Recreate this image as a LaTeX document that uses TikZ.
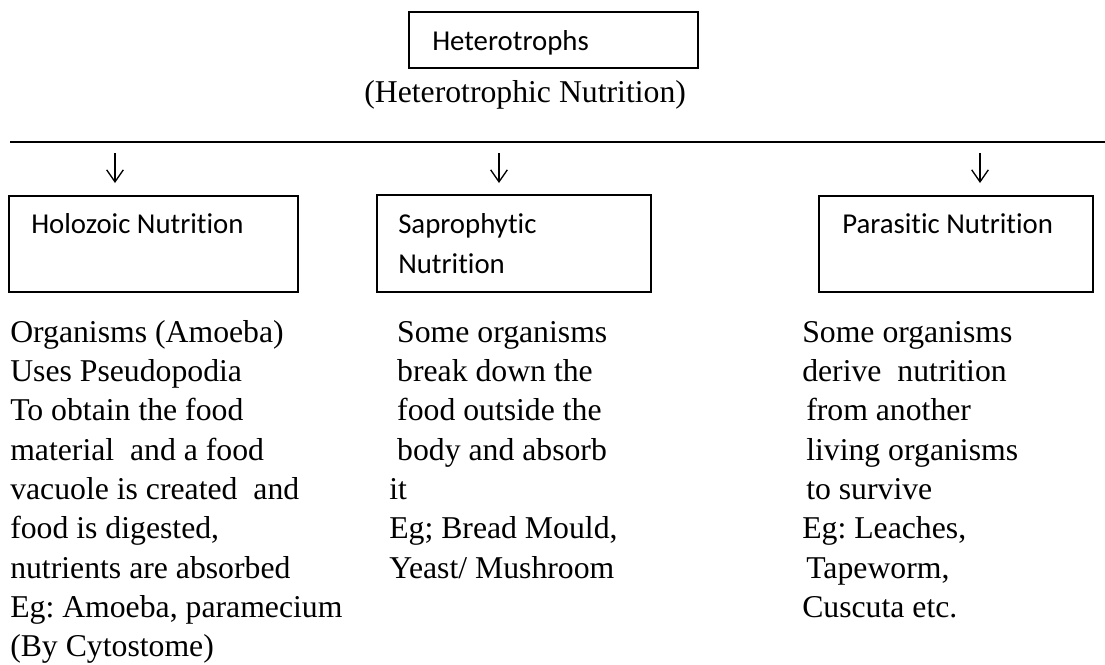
\documentclass[tikz,border=0pt]{standalone}
\usepackage{fontspec}
\setmainfont{Liberation Serif}
\newfontfamily\calibrifont[Ligatures=NoCommon]{Carlito}
\usetikzlibrary{arrows.meta}
\frenchspacing
\begin{document}
\begin{tikzpicture}[x=0.75pt,y=-0.75pt,
  boxnode/.style={draw, line width=1pt, inner sep=0, rectangle},
  boxtext/.style={font=\calibrifont\fontsize{21.6}{30}\selectfont, inner sep=0, anchor=base west},
  bodytext/.style={font=\fontsize{23.8}{29.5}\selectfont, inner sep=0, anchor=base west},
  downarrow/.style={line width=1pt, -{Straight Barb[length=9pt,width=12.5pt]}},
  rule/.style={line width=1pt}
]
\useasboundingbox (0,0) rectangle (1105,664);

% top box
\node[boxnode, minimum width=216.75pt, minimum height=42pt] (top) at (553.5,40) {};
\node[boxtext] (toptext) at (432,50) {Heterotrophs};
\node[bodytext] (subtitle) at (364,102) {(Heterotrophic Nutrition)};

% horizontal rule
\coordinate (ls) at (10,142);
\coordinate (le) at (1105,142);
\draw[rule] (ls) -- (le);

% arrows
\coordinate (a1s) at (115,153); \coordinate (a1e) at (115,183);
\coordinate (a2s) at (499,153); \coordinate (a2e) at (499,183);
\coordinate (a3s) at (980,153); \coordinate (a3e) at (980,183);
\draw[downarrow] (a1s) -- (a1e);
\draw[downarrow] (a2s) -- (a2e);
\draw[downarrow] (a3s) -- (a3e);

% category boxes
\node[boxnode, minimum width=216.75pt, minimum height=72pt] (holo) at (153.5,244) {};
\node[boxnode, minimum width=205.5pt, minimum height=72.75pt] (sapro) at (514,243.5) {};
\node[boxnode, minimum width=205.5pt, minimum height=72pt] (para) at (956,244) {};

\node[boxtext] (holotext) at (31,233) {Holozoic Nutrition};
\node[boxtext] (saprotext) at (398,233) {\begin{tabular}[t]{@{}l@{}}Saprophytic\\Nutrition\end{tabular}};
\node[boxtext] (paratext) at (842,233) {Parasitic Nutrition};

% descriptions
\node[bodytext] (holodesc) at (10,342) {\begin{tabular}[t]{@{}l@{}}
Organisms (Amoeba)\\
Uses Pseudopodia\\
To obtain the food\\
material\ \ and a food\\
vacuole is created\ \ and\\
food is digested,\\
nutrients are absorbed\\
Eg: Amoeba, paramecium\\
(By Cytostome)
\end{tabular}};

\node[bodytext] (saprodesc) at (389,342) {\begin{tabular}[t]{@{}l@{}}
\hspace{0.25em}Some organisms\\
\hspace{0.25em}break down the\\
\hspace{0.25em}food outside the\\
\hspace{0.25em}body and absorb\\
it\\
Eg; Bread Mould,\\
Yeast/ Mushroom
\end{tabular}};

\node[bodytext] (paradesc) at (802,342) {\begin{tabular}[t]{@{}l@{}}
Some organisms\\
derive\ \ nutrition\\
\hspace{3pt}from another\\
\hspace{3pt}living organisms\\
\hspace{3pt}to survive\\
Eg: Leaches,\\
\hspace{3pt}Tapeworm,\\
Cuscuta etc.
\end{tabular}};
\end{tikzpicture}
\end{document}
